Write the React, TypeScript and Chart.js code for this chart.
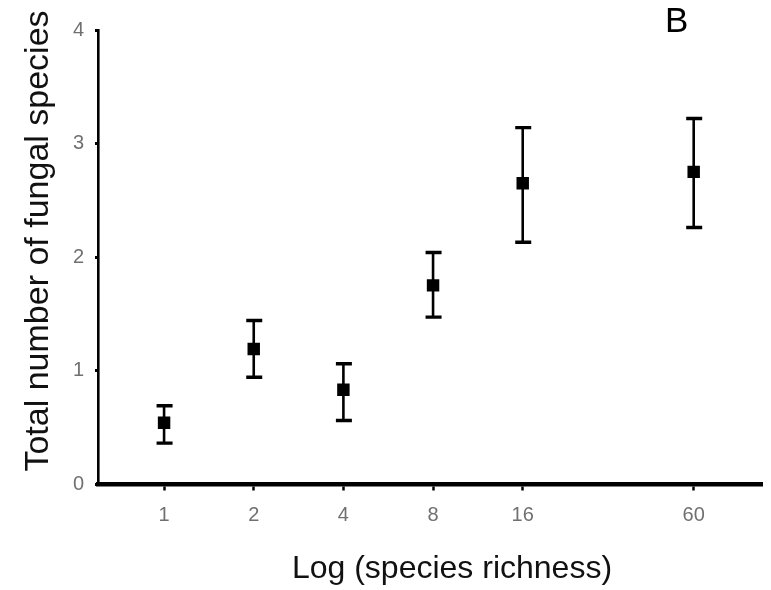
import { useEffect, useRef } from "react";
import { Chart, registerables } from "chart.js";

Chart.register(...registerables);

// ---- data ----
const richness = [1, 2, 4, 8, 16, 60];
const xTickLabels = ["1", "2", "4", "8", "16", "60"];
const meanFungal = [0.54, 1.19, 0.83, 1.75, 2.65, 2.75];
const upperFungal = [0.69, 1.44, 1.06, 2.04, 3.14, 3.22];
const lowerFungal = [0.36, 0.94, 0.56, 1.47, 2.13, 2.26];
const yTickValues = [0, 1, 2, 3, 4];
const xTitle = "Log (species richness)";
const yTitle = "Total number of fungal species";
const panelLabel = "B";

const FONT = "'Liberation Sans', Arial, sans-serif";

const errorBarPlugin = {
  id: "errorBars",
  beforeDatasetsDraw(chart: any) {
    const { ctx, scales } = chart;
    const xs = scales.x;
    const ys = scales.y;
    ctx.save();
    ctx.strokeStyle = "#000";
    ctx.fillStyle = "#000";
    for (let i = 0; i < richness.length; i++) {
      const px = xs.getPixelForValue(richness[i]);
      const pTop = ys.getPixelForValue(upperFungal[i]);
      const pBot = ys.getPixelForValue(lowerFungal[i]);
      ctx.lineWidth = 2.6;
      ctx.beginPath();
      ctx.moveTo(px, pTop);
      ctx.lineTo(px, pBot);
      ctx.stroke();
      ctx.lineWidth = 3.4;
      ctx.beginPath();
      ctx.moveTo(px - 7.5, pTop);
      ctx.lineTo(px + 8.5, pTop);
      ctx.moveTo(px - 7.5, pBot);
      ctx.lineTo(px + 8.5, pBot);
      ctx.stroke();
    }
    ctx.restore();
  },
};

const titlesPlugin = {
  id: "customTitles",
  afterDraw(chart: any) {
    const { ctx, chartArea } = chart;
    ctx.save();
    ctx.fillStyle = "#111";
    // x title
    ctx.font = `32px ${FONT}`;
    ctx.textAlign = "center";
    ctx.textBaseline = "alphabetic";
    ctx.fillText(xTitle, chartArea.left + 354, chartArea.bottom + 94);
    // y title
    ctx.save();
    ctx.translate(chartArea.left - 50, chartArea.top + 211);
    ctx.rotate(-Math.PI / 2);
    ctx.font = `34px ${FONT}`;
    ctx.textAlign = "center";
    ctx.textBaseline = "alphabetic";
    ctx.fillText(yTitle, 0, 0);
    ctx.restore();
    // panel label
    ctx.font = `35px ${FONT}`;
    ctx.textAlign = "left";
    ctx.fillStyle = "#000";
    ctx.fillText(panelLabel, chartArea.left + 567, chartArea.top + 2);
    ctx.restore();
  },
};

export default function App() {
  const canvasRef = useRef<HTMLCanvasElement | null>(null);

  useEffect(() => {
    if (!canvasRef.current) return;
    const chart = new Chart(canvasRef.current, {
      type: "scatter",
      data: {
        datasets: [
          {
            label: "Fungal species",
            data: richness.map((r, i) => ({ x: r, y: meanFungal[i] })),
            pointStyle: "rect",
            pointRadius: 8.8,
            pointHoverRadius: 8.8,
            backgroundColor: "#000",
            borderColor: "#000",
            borderWidth: 0,
            showLine: false,
          },
        ],
      },
      options: {
        responsive: false,
        animation: false,
        events: [],
        layout: { padding: { left: 0, top: 30, right: 7, bottom: 0 } },
        plugins: {
          legend: { display: false },
          tooltip: { enabled: false },
          title: { display: false },
        },
        scales: {
          x: {
            type: "logarithmic",
            min: 0.612,
            max: 101.9,
            afterBuildTicks: (scale: any) => {
              scale.ticks = richness.map((v) => ({ value: v }));
            },
            afterFit: (scale: any) => {
              scale.height = 106;
            },
            border: { display: true, color: "#000", width: 4.5 },
            grid: {
              display: true,
              drawOnChartArea: false,
              drawTicks: true,
              tickLength: 6.5,
              tickWidth: 2.5,
              tickColor: "#000",
            },
            ticks: {
              autoSkip: false,
              maxRotation: 0,
              padding: 13,
              color: "#707070",
              font: { family: FONT, size: 20 },
              callback: (value: any) => {
                const idx = richness.indexOf(Number(value));
                return idx >= 0 ? xTickLabels[idx] : "";
              },
            },
          },
          y: {
            type: "linear",
            min: 0,
            max: 4,
            afterBuildTicks: (scale: any) => {
              scale.ticks = yTickValues.map((v) => ({ value: v }));
            },
            afterFit: (scale: any) => {
              scale.width = 98;
            },
            border: { display: true, color: "#000", width: 2.6 },
            grid: {
              display: true,
              drawOnChartArea: false,
              drawTicks: true,
              tickLength: 3,
              tickWidth: 3,
              tickColor: "#000",
            },
            ticks: {
              padding: 11,
              color: "#707070",
              font: { family: FONT, size: 20 },
              callback: (value: any) => String(value),
            },
          },
        },
      },
      plugins: [errorBarPlugin, titlesPlugin],
    });
    return () => chart.destroy();
  }, []);

  return (
    <div style={{ position: "absolute", left: 0, top: 0, width: 771, height: 590, background: "#fff" }}>
      <canvas ref={canvasRef} width={771} height={590} style={{ display: "block" }} />
    </div>
  );
}
